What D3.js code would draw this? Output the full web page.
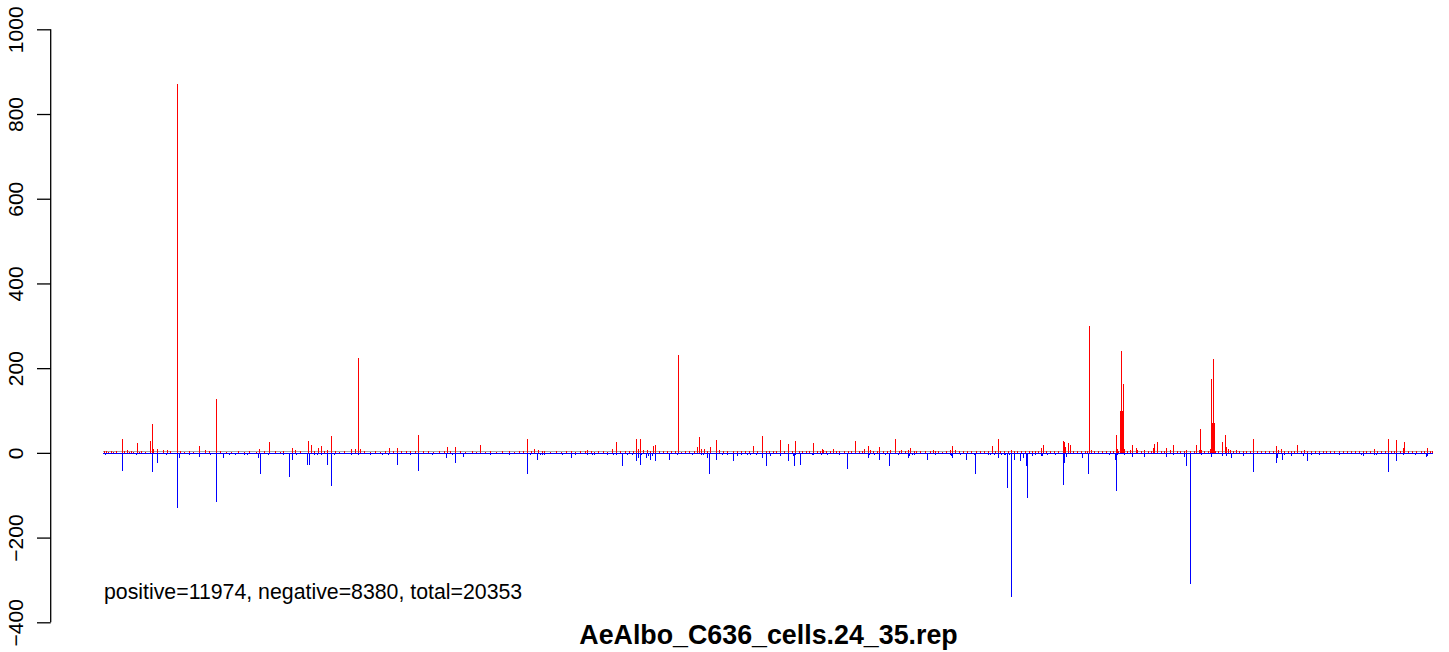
<!DOCTYPE html>
<html>
<head>
<meta charset="utf-8">
<script src="https://cdn.jsdelivr.net/npm/d3@7"></script>
<style>
  html, body { margin: 0; padding: 0; background: #ffffff; }
  svg { display: block; }
  text { font-family: "Liberation Sans", Arial, sans-serif; fill: #000; }
</style>
</head>
<body>
<svg id="chart" width="1449" height="652"></svg>
<script>
// ---- data (position bin, count) ----
const chartTitle = "AeAlbo_C636_cells.24_35.rep";
const summaryText = "positive=11974, negative=8380, total=20353";
const yTickValues = [-400, -200, 0, 200, 400, 600, 800, 1000];
const binRange = [0, 1330];

const positiveBars = [
[1,4],[3,5],[5,3],[8,5],[10,3],[13,4],[18.5,33],[21,4],[24,6],[26,3],[28,4],[30,3],[34,24],[36,3],[38,4],[42,3],[47,28],[48.5,68],[50,8],[54,9],[60,7],[64,7],[67,4],[74,870],[77,5],[81,3],[86,4],[90,3],[96,17],[102,7],[106,4],[113,127],[117,4],[123,3],[128,3],[135,4],[141,3],[146,4],[153,3],[156,9],[161,4],[166,26],[172,4],[177,3],[180,4],[189,12],[192,7],[197,4],[205,28],[208,19],[211,5],[215,12],[218,17],[221,4],[224,7],[228,40],[232,4],[236,3],[241,4],[248,9],[252,9],[255,224],[257,9],[261,4],[267,3],[272,4],[277,3],[282,4],[286,12],[290,4],[294,12],[298,4],[303,5],[307,4],[312,5],[315,42],[320,5],[325,4],[330,3],[336,5],[341,5],[343.5,14],
[347,4],[352,14],[357,4],[362,3],[369,4],[373,3],[377,19],[382,3],[387,4],[393,3],[399,4],[406,5],[411,3],[416,4],[420,4],[424,33],[428,5],[431,9],[435,7],[439,5],[441,5],[447,3],[453,4],[458,3],[463,5],[468,4],[472,3],[477,4],[482,5],[484,7],[488,5],[491,3],[495,4],[500,5],[504,3],[509,9],[513,26],[517,4],[522,5],[526,4],[530,5],[533,33],[535,9],[537,33],[540,6],[544,7],[547,5],[550,17],[552,19],[556,4],[560,5],[564,5],[568,4],[572,4],[574.5,231],[578,3],[582,4],[586,4],[591,5],[594,14],[596,38],[598,9],[601,9],[604,5],[607,14],[613,31],[616,7],[620,4],[624,5],[630,5],[634,4],[638,5],[642,4],[646,5],[650,17],[654,4],[659,40],[663,5],[666,4],[670,5],[673,4],[677,31],[681,5],[685,21],[689,4],[692,28],[696,5],[699,5],[703,4],[706,5],[710,24],[714,4],[717,5],[719,9],[720,7],[723,5],[727,4],[730,9],[733,5],[736,4],[741,5],[745,4],[748,5],[752,28],[756,4],[759,5],[761,9],[765,17],[767,7],[770,4],[774,5],[776,14],[780,4],[784,5],[787,7],[792,33],[796,4],[798,7],[802,4],[805,7],[807,12],[811,5],[813,5],[817,4],[822,5],[827,4],[830,7],[832,5],[835,4],[839,3],[843,5],[847,7],[849,17],[852,7],[856,4],[860,5],[864,4],[868,5],[873,5],[877,4],[881,5],[885,4],[889,17],[892,4],[895,33],[897,5],[901,4],[905,5],[908,7],[911,5],[914,4],[918,5],[922,4],[926,5],[929,4],[932,5],[935,5],[938,12],[939.5,19],[943,4],[947,5],[951,4],[955,5],[960,28],[961,26],[962,14],[965,24],[967,19],[970,5],[974,4],[978,5],[982,4],[984,5],[985.5,300],[988,7],[991,4],[995,5],[999,4],[1003,5],[1007,4],[1010,5],[1013,42],[1014,9],[1015,5],[1017,99],[1018,240],[1019,99],[1020,163],[1021,9],[1024,5],[1027,7],[1029,19],[1033,12],[1034,7],[1038,5],[1041,7],[1045,5],[1048,4],[1050,12],[1051,21],[1054,26],[1058,5],[1061,4],[1063,12],[1067,7],[1070,19],[1074,5],[1077,4],[1081,5],[1083,7],[1087,4],[1091,5],[1093,19],[1096,7],[1097,57],[1098,7],[1101,5],[1105,5],[1107,9],[1108,175],[1109,71],[1110,222],[1111,71],[1112,5],[1115,4],[1119,26],[1122,42],[1123,14],[1125,9],[1127,7],[1130,5],[1133,7],[1136,4],[1140,5],[1143,4],[1147,5],[1150,33],[1154,4],[1158,5],[1162,4],[1166,5],[1170,4],[1173,17],[1175,7],[1178,9],[1181,5],[1185,4],[1188,5],[1191,4],[1194,19],[1198,5],[1201,7],[1204,5],[1208,4],[1212,5],[1216,4],[1220,5],[1223,4],[1227,5],[1231,4],[1236,5],[1240,4],[1244,5],[1248,4],[1252,5],[1256,4],[1260,5],[1263,4],[1267,5],[1271,9],[1274,5],[1278,4],[1282,4],[1285,33],[1288,5],[1291,4],[1293,31],[1297,5],[1300,12],[1301,26],[1305,4],[1309,5],[1313,4],[1318,5],[1321,4],[1324,12],[1327,5],[1329,4]
];

const negativeBars = [
[2,-4],[7,-3],[18.5,-42],[24,-3],[33,-4],[37,-3],[48.5,-46],[54,-23],[63,-4],[69,-3],[74,-129],[76,-11],[82,-3],[86,-4],[96,-9],[102,-3],[107,-4],[113,-117],[120,-11],[126,-4],[132,-4],[141,-6],[144,-4],[149,-3],[155,-11],[156.5,-51],[162,-3],[165,-4],[173,-3],[180,-4],[185.5,-56],[189,-16],[193,-4],[198,-3],[204,-28],[206,-28],[211,-4],[214,-5],[218,-5],[224,-28],[228,-79],[231,-4],[237,-3],[242,-3],[248,-4],[255,-4],[261,-3],[267,-4],[273,-3],[279,-4],[285,-4],[294,-28],[301,-3],[307,-4],[315,-42],[322,-3],[329,-4],[337,-3],[343,-11],
[349,-4],[352,-25],[360,-9],[367,-3],[375,-3],[387,-4],[397,-3],[406,-4],[417,-3],[424,-49],[427,-5],[434,-16],[437,-4],[439,-4],[441,-4],[447,-3],[459,-4],[468,-11],[472,-5],[484,-5],[489,-6],[491,-5],[497,-3],[504,-4],[510,-4],[513,-5],[519,-30],[524,-4],[529,-4],[533,-20],[535,-11],[537,-28],[538,-5],[543,-13],[545,-7],[547,-16],[549,-7],[552,-20],[557,-3],[566,-18],[574,-4],[582,-3],[589,-5],[598,-6],[600,-4],[604,-13],[606,-51],[613,-16],[619,-5],[624,-5],[630,-20],[634,-7],[638,-4],[644,-5],[647,-5],[653,-4],[659,-11],[663,-30],[667,-7],[677,-7],[685,-20],[690,-7],[691,-32],[692,-5],[697,-28],[709,-5],[710,-5],[718,-4],[724,-4],[736,-4],[744,-37],[765,-11],[766,-5],[771,-5],[776,-16],[782,-4],[786,-30],[795,-5],[805,-11],[806,-7],[809,-4],[811,-4],[824,-16],[832,-4],[847,-4],[848,-7],[849,-11],[857,-4],[863,-16],[871,-4],[872,-49],[885,-5],[887,-4],[891,-5],[895,-11],[898,-5],[901,-5],[902,-5],[904,-84],[906,-4],[908,-340],[911,-18],[917,-20],[920,-11],[923,-32],[924,-107],[929,-7],[932,-4],[938,-7],[939,-7],[944,-4],[952,-4],[960,-75],[961,-25],[963,-9],[979,-11],[985,-51],[1006,-4],[1012,-16],[1013,-91],[1014,-4],[1021,-4],[1029,-9],[1041,-9],[1063,-9],[1070,-4],[1081,-9],[1083,-32],[1087,-310],[1098,-4],[1108,-9],[1119,-7],[1123,-7],[1128,-13],[1140,-7],[1150,-46],[1173,-23],[1174,-11],[1179,-16],[1181,-4],[1188,-7],[1200,-7],[1204,-20],[1208,-4],[1216,-4],[1236,-4],[1258,-4],[1260,-7],[1271,-4],[1273,-4],[1285,-46],[1293,-19],[1300,-4],[1312,-4],[1323,-9],[1324,-7]
];

// ---- layout ----
const svg = d3.select("#chart");
const x = d3.scaleLinear().domain(binRange).range([103, 1433]);
const y = d3.scaleLinear().domain([-400, 1000]).range([622.3, 29.3]);
const px = v => Math.round(x(v)) + 0.5;

// zero baseline (grey band with blue underline)
svg.append("line")
  .attr("x1", x(binRange[0])).attr("x2", x(binRange[1]))
  .attr("y1", y(0) - 1).attr("y2", y(0) - 1)
  .attr("stroke", "#a8a8a8").attr("stroke-width", 1.2)
  .attr("shape-rendering", "crispEdges");
svg.append("line")
  .attr("x1", x(binRange[0])).attr("x2", x(binRange[1]))
  .attr("y1", y(0) + 0.6).attr("y2", y(0) + 0.6)
  .attr("stroke", "#0000ff").attr("stroke-width", 1.3)
  .attr("shape-rendering", "crispEdges");

// bars
svg.append("g").attr("shape-rendering", "crispEdges")
  .selectAll("line").data(negativeBars).join("line")
  .attr("x1", d => px(d[0])).attr("x2", d => px(d[0]))
  .attr("y1", y(0)).attr("y2", d => y(d[1]))
  .attr("stroke", "#0000ff").attr("stroke-width", 1);
svg.append("g").attr("shape-rendering", "crispEdges")
  .selectAll("line").data(positiveBars).join("line")
  .attr("x1", d => px(d[0])).attr("x2", d => px(d[0]))
  .attr("y1", y(0)).attr("y2", d => y(d[1]))
  .attr("stroke", "#ff0000").attr("stroke-width", 1);

// y axis
const axis = d3.axisLeft(y).tickValues(yTickValues).tickSize(13.7).tickPadding(0)
  .tickFormat(d => d < 0 ? "\u2212" + Math.abs(d) : String(d));
const gAxis = svg.append("g").attr("transform", "translate(50.7,0)").call(axis);
gAxis.selectAll(".domain").attr("stroke", "#000").attr("stroke-width", 1.3)
  .attr("d", `M0,${y(1000)}V${y(-400)}`);
gAxis.selectAll(".tick line").attr("stroke", "#000").attr("stroke-width", 1.3);
gAxis.selectAll(".tick text")
  .attr("x", null).attr("dy", null)
  .attr("transform", "translate(-27.7,0) rotate(-90)")
  .attr("text-anchor", "middle")
  .style("font-size", "21px")
  .style("font-family", "'Liberation Sans', Arial, sans-serif");

// annotation
svg.append("text").attr("x", 104).attr("y", 599)
  .style("font-size", "21.3px").text(summaryText);

// title
svg.append("text").attr("x", 768.5).attr("y", 644)
  .attr("text-anchor", "middle")
  .style("font-size", "26.8px").style("font-weight", "bold")
  .text(chartTitle);
</script>
</body>
</html>
